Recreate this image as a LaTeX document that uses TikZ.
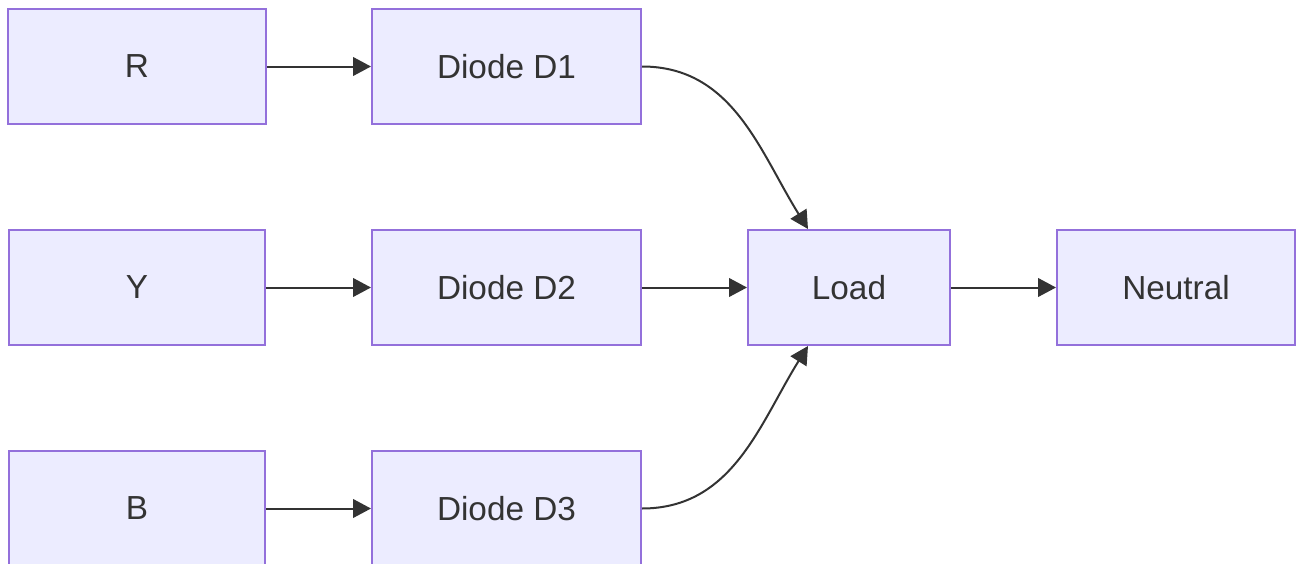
\documentclass[tikz,border=0pt]{standalone}
\usepackage{fontspec}
\setmainfont{Liberation Sans}
\usetikzlibrary{arrows.meta}
\definecolor{boxfill}{HTML}{ECECFF}
\definecolor{boxline}{HTML}{9370DB}
\definecolor{ink}{HTML}{333333}
\tikzstyle{block}=[draw=boxline,fill=boxfill,line width=1.5pt,minimum height=86.25pt,text=ink,font=\fontsize{25}{30}\selectfont,inner sep=0pt]
\tikzstyle{wire}=[draw=ink,line width=1.5pt,-{Triangle[length=13.5pt,width=14pt]}]

\begin{document}
\begin{tikzpicture}[x=0.75pt,y=-0.75pt]
  \useasboundingbox (0,0) rectangle (1297,564);
  % phases
  \node[block,minimum width=193.5pt] (r) at (137,66.5) {R};
  \node[block,minimum width=192pt] (y) at (137,287.5) {Y};
  \node[block,minimum width=192pt] (b) at (137,508.5) {B};
  % diodes
  \node[block,minimum width=201.75pt] (d1) at (506.5,66.5) {Diode D1};
  \node[block,minimum width=201.75pt] (d2) at (506.5,287.5) {Diode D2};
  \node[block,minimum width=201.75pt] (d3) at (506.5,508.5) {Diode D3};
  \node[block,minimum width=151.5pt] (load) at (849,287.5) {Load};
  \node[block,minimum width=178.5pt] (neutral) at (1176,287.5) {Neutral};

  \draw[wire] (r) -- (d1);
  \draw[wire] (y) -- (d2);
  \draw[wire] (b) -- (d3);
  \draw[wire] (d1.east) to[out=0,in=122] ([xshift=-30.75pt]load.north);
  \draw[wire] (d2) -- (load);
  \draw[wire] (d3.east) to[out=0,in=-122] ([xshift=-30.75pt]load.south);
  \draw[wire] (load) -- (neutral);
\end{tikzpicture}
\end{document}
